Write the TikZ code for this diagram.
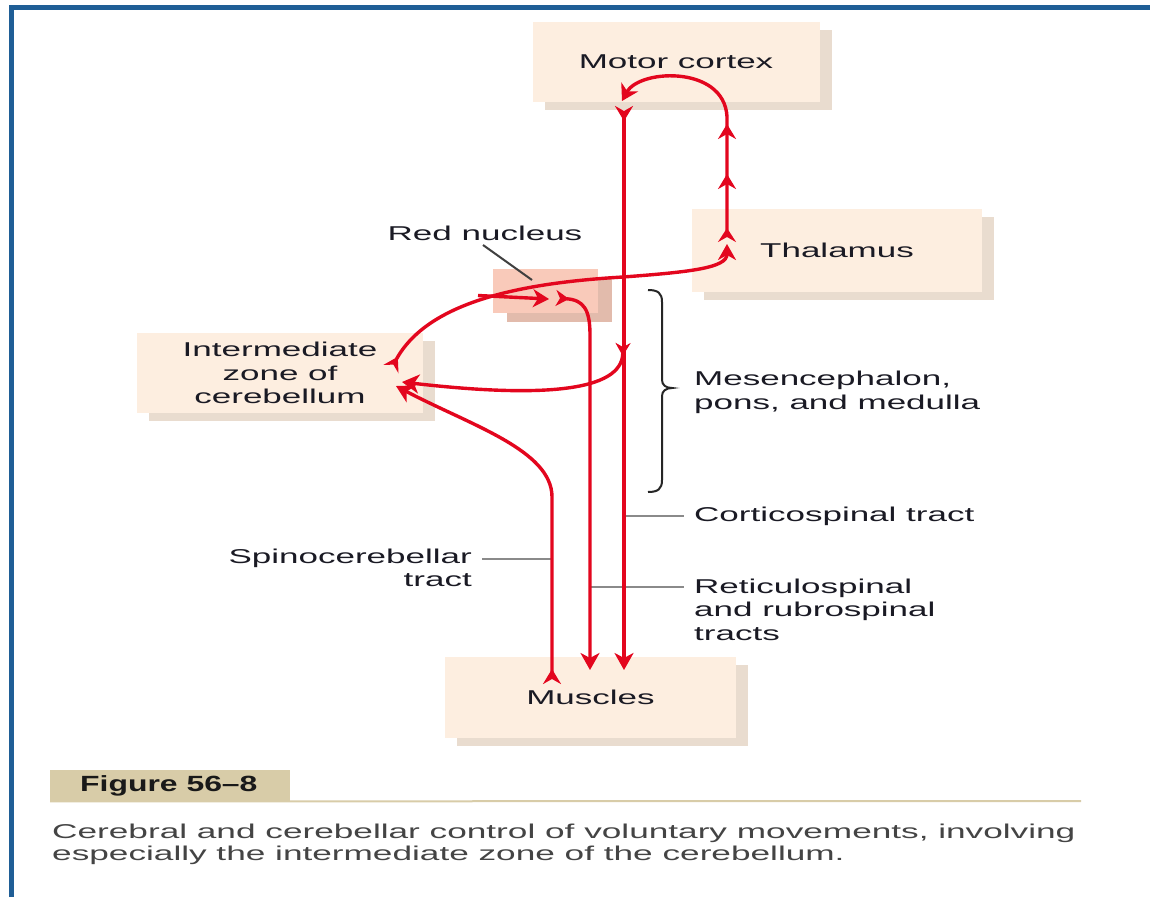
\documentclass[tikz,border=0pt]{standalone}
\usepackage{fontspec}
\usetikzlibrary{arrows.meta,shadows,decorations.markings}
\newfontfamily\labfont[FakeStretch=1.75]{Liberation Sans}
\newfontfamily\capfont[FakeStretch=1.76]{Liberation Sans}
\newfontfamily\figfont[FakeStretch=1.45]{Liberation Sans}
\definecolor{frameblue}{HTML}{1F5E96}
\definecolor{boxfill}{HTML}{FDEEE0}
\definecolor{boxshadow}{HTML}{E9DCCF}
\definecolor{rnfill}{HTML}{F9CABA}
\definecolor{rnshadow}{HTML}{E2BBAC}
\definecolor{tractred}{HTML}{E3061E}
\definecolor{labtext}{HTML}{1A1A24}
\definecolor{captext}{HTML}{444444}
\definecolor{tabfill}{HTML}{D8CCA8}
\definecolor{leadgray}{HTML}{8A8A8A}
\begin{document}
\begin{tikzpicture}[x=1pt,y=-1pt,
  box/.style={fill=boxfill, inner sep=0pt, align=center, text=labtext,
    font=\labfont\fontsize{20}{23.5}\selectfont,
    drop shadow={shadow xshift=12pt, shadow yshift=-8pt, fill=boxshadow, opacity=1}},
  rnbox/.style={fill=rnfill, inner sep=0pt,
    drop shadow={shadow xshift=14pt, shadow yshift=-9pt, fill=rnshadow, opacity=1}},
  lbl/.style={inner sep=0pt, text=labtext, font=\labfont\fontsize{20}{23.5}\selectfont},
  tract/.style={draw=tractred, line width=3.4pt},
  leader/.style={draw=leadgray, line width=2pt},
  bracestyle/.style={draw=black!85, line width=2pt},
]
\useasboundingbox (0,0) rectangle (1150,897);
\fill[white] (0,0) rectangle (1150,897);
% frame
\draw[frameblue, line width=5pt] (11.5,897) -- (11.5,7) -- (1150,7);

% boxes
\node[box, minimum width=287pt, minimum height=80pt] (motor) at (676,62) {Motor cortex};
\node[box, minimum width=290pt, minimum height=83pt] (thal) at (837,250.5) {Thalamus};
\node[box, minimum width=286pt, minimum height=80pt] (inter) at (280,373) {Intermediate\\zone of\\cerebellum};
\node[box, minimum width=291pt, minimum height=81pt] (musc) at (590.5,697.5) {Muscles};
\node[rnbox, minimum width=105pt, minimum height=44pt] (rn) at (545.5,291) {};

% labels
\node[lbl] (rnl) at (485,233) {Red nucleus};
\node[lbl, anchor=west, align=left] (mes) at (694,392.5) {Mesencephalon,\\pons, and medulla};
\node[lbl, anchor=west] (cst) at (694,516) {Corticospinal tract};
\node[lbl, anchor=east, align=right] (scl) at (472,568) {Spinocerebellar\\tract};
\node[lbl, anchor=west, align=left] (rsl) at (694,609.5) {Reticulospinal\\and rubrospinal\\tracts};

% leader lines
\coordinate (rnA) at (483,245);
\coordinate (rnB) at (532,280);
\draw[leader, draw=black!75] (rnA) -- (rnB);
\coordinate (cstA) at (625,516);
\coordinate (cstB) at (684,516);
\draw[leader] (cstA) -- (cstB);
\coordinate (rsA) at (590,587);
\coordinate (rsB) at (684,587);
\draw[leader] (rsA) -- (rsB);
\coordinate (scA) at (482,559);
\coordinate (scB) at (552,559);
\draw[leader] (scA) -- (scB);

% brace
\draw[bracestyle] (648,290) .. controls (658,290) and (662,293) .. (662,302) -- (662,380)
  .. controls (662,385) and (666,388) .. (672,388)
  .. controls (666,388) and (662,391) .. (662,396) -- (662,480)
  .. controls (662,489) and (658,492) .. (648,492);

% tracts
\coordinate (cstTop) at (624,106);
\coordinate (cstBot) at (624,670);
\draw[tract, {Stealth[reversed,length=15pt,width=18pt,inset=5pt]}-{Stealth[length=17pt,width=19pt,inset=5pt]}] (cstTop) -- (cstBot);

\coordinate (rsStart) at (556,298);
\coordinate (rsBot) at (590,670);
\draw[tract, {Stealth[reversed,length=13pt,width=16pt,inset=4pt]}-{Stealth[length=17pt,width=19pt,inset=5pt]}] (rsStart) .. controls (584,300) and (590,310) .. (590,335) -- (rsBot);

\coordinate (scStart) at (552,684);
\coordinate (scEnd) at (396,386);
\draw[tract, {Stealth[reversed,length=15pt,width=18pt,inset=5pt]}-{Stealth[length=17pt,width=19pt,inset=5pt]}] (scStart) -- (552,497) .. controls (552,450) and (470,425) .. (scEnd);

\coordinate (brStart) at (623,343);
\coordinate (brEnd) at (402,382);
\draw[tract, {Stealth[reversed,length=13pt,width=15pt,inset=4pt]}-{Stealth[length=17pt,width=19pt,inset=5pt]}] (brStart) .. controls (622,392) and (540,398) .. (brEnd);

\coordinate (bcStart) at (391,369);
\coordinate (bcEnd) at (727,244);
\draw[tract, {Stealth[reversed,length=14pt,width=17pt,inset=5pt]}-{Stealth[length=16pt,width=18pt,inset=5pt]}] (bcStart) .. controls (428,302) and (520,283) .. (623,277) .. controls (690,272) and (727,268) .. (bcEnd);

\coordinate (rnBrA) at (478,295.5);
\coordinate (rnBrB) at (549,299);
\draw[tract, -{Stealth[length=16pt,width=18pt,inset=5pt]}] (rnBrA) -- (rnBrB);

\coordinate (tcStart) at (727,242);
\coordinate (tcEnd) at (622,101);
\draw[tract, {Stealth[reversed,length=14pt,width=18pt,inset=5pt]}-{Stealth[length=16pt,width=19pt,inset=5pt]},
  postaction={decorate, decoration={markings,
    mark=at position 68pt with {\arrow{Stealth[length=15pt,width=18pt,inset=5pt]}},
    mark=at position 118pt with {\arrow{Stealth[length=15pt,width=18pt,inset=5pt]}}}}]
  (tcStart) -- (727,122) .. controls (730,65) and (640,68) .. (tcEnd);

% caption
\node[fill=tabfill, minimum width=240pt, minimum height=31pt, inner sep=0pt, anchor=north west] (tab) at (50,770) {};
\node[inner sep=0pt, anchor=west, text=black!90, font=\figfont\bfseries\fontsize{22}{24}\selectfont] (figl) at ([xshift=30pt]tab.west) {Figure 56–8};
\coordinate (lineEnd) at (1081,801);
\draw[draw=tabfill, line width=2pt] (tab.south west) -- (lineEnd);
\node[inner sep=0pt, anchor=north west, align=left, text=captext, font=\capfont\fontsize{20}{22}\selectfont] (capt) at (52,824)
  {Cerebral and cerebellar control of voluntary movements, involving\\especially the intermediate zone of the cerebellum.};
\end{tikzpicture}
\end{document}
